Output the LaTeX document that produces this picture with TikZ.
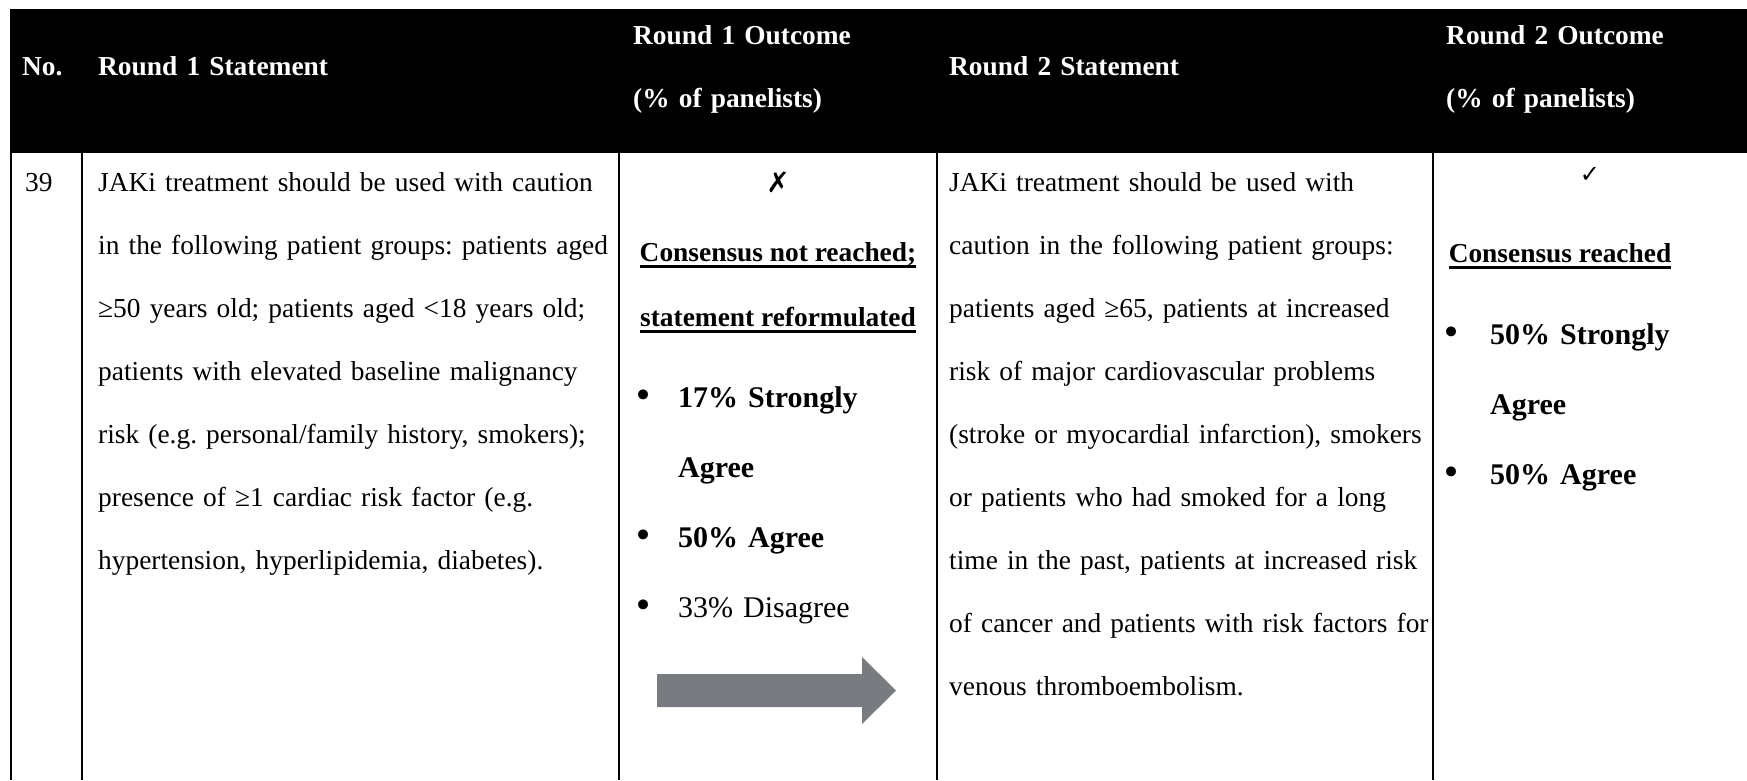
\documentclass[tikz,border=0pt]{standalone}
\usepackage{fontspec}
\setmainfont{Liberation Serif}
\newfontfamily\symfont{DejaVu Sans}
\definecolor{arrowgrey}{RGB}{120,123,128}
% bold text with a thick underline
\newcommand{\underbold}[1]{\textbf{\setbox0\hbox{#1}\rlap{\rule[-7pt]{\wd0}{2.8pt}}\box0}}
\frenchspacing
\begin{document}
\frenchspacing
\begin{tikzpicture}[x=1pt,y=-1pt,
    head/.style ={anchor=base west, inner sep=0pt, text=white, font=\fontsize{27.4}{63}\selectfont\bfseries, align=left, text width=300pt},
    body/.style ={anchor=base west, inner sep=0pt, font=\fontsize{27.4}{63}\selectfont, align=left, text width=#1},
    centred/.style ={anchor=base, inner sep=0pt, font=\fontsize{27.4}{63}\selectfont},
    dot/.style ={anchor=base, inner sep=0pt, font=\fontsize{34}{70}\symfont},
    bullettext/.style ={anchor=base west, inner sep=0pt, font=\fontsize{30}{70}\selectfont, align=left, text width=300pt},
    rule/.style ={line width=2.4pt}]
   \useasboundingbox (0,0) rectangle (1747,780);
   % header band
   \fill (10,9) rectangle (1747,153);
   \node[head] (hno)  at (22,75)   {No.};
   \node[head] (hs1)  at (98,75)   {Round 1 Statement};
   \node[head] (ho1)  at (633,44)  {Round 1 Outcome\\(\% of panelists)};
   \node[head] (hs2)  at (949,75)  {Round 2 Statement};
   \node[head] (ho2)  at (1446,44) {Round 2 Outcome\\(\% of panelists)};
   % column rules
   \foreach \x/\n in {11/a,82/b,619/c,937/d,1433/e}
     \draw[rule] (\x,153) coordinate (top\n) -- (\x,780) coordinate (bot\n);
   % statements
   \node[body=60pt] (num) at (25,191) {39};
   \node[body=600pt] (s1) at (98,191) {JAKi treatment should be used with caution\\
     in the following patient groups: patients aged\\
     ≥50 years old; patients aged <18 years old;\\
     patients with elevated baseline malignancy\\
     risk (e.g. personal/family history, smokers);\\
     presence of ≥1 cardiac risk factor (e.g.\\
     hypertension, hyperlipidemia, diabetes).};
   \node[body=600pt] (s2) at (949,191) {JAKi treatment should be used with\\
     caution in the following patient groups:\\
     patients aged ≥65, patients at increased\\
     risk of major cardiovascular problems\\
     (stroke or myocardial infarction), smokers\\
     or patients who had smoked for a long\\
     time in the past, patients at increased risk\\
     of cancer and patients with risk factors for\\
     venous thromboembolism.};
   % round 1 outcome
   \node[centred, font=\fontsize{28}{63}\symfont] (o1x) at (778,192) {✗};
   \node[centred] (o1a) at (778,261) {\underbold{Consensus not reached;}};
   \node[centred] (o1b) at (778,326) {\underbold{statement reformulated}};
   \node[dot] (d1) at (644,407) {•};
   \node[bullettext] (b1) at (678,407) {\textbf{17\% Strongly}\\\textbf{Agree}};
   \node[dot] (d2) at (644,547) {•};
   \node[bullettext] (b2) at (678,547) {\textbf{50\% Agree}};
   \node[dot] (d3) at (644,617) {•};
   \node[bullettext] (b3) at (678,617) {33\% Disagree};
   \fill[arrowgrey] (657,674) -- (862,674) -- (862,657) -- (896,690.5) -- (862,724) -- (862,707) -- (657,707) -- cycle;
   % round 2 outcome
   \node[centred, font=\fontsize{24}{63}\symfont] (o2c) at (1590,182) {✓};
   \node[centred] (o2a) at (1560,262) {\underbold{Consensus reached}};
   \node[dot] (d4) at (1452,344) {•};
   \node[bullettext] (b4) at (1490,344) {\textbf{50\% Strongly}\\\textbf{Agree}};
   \node[dot] (d5) at (1452,484) {•};
   \node[bullettext] (b5) at (1490,484) {\textbf{50\% Agree}};
 \end{tikzpicture}
\end{document}
